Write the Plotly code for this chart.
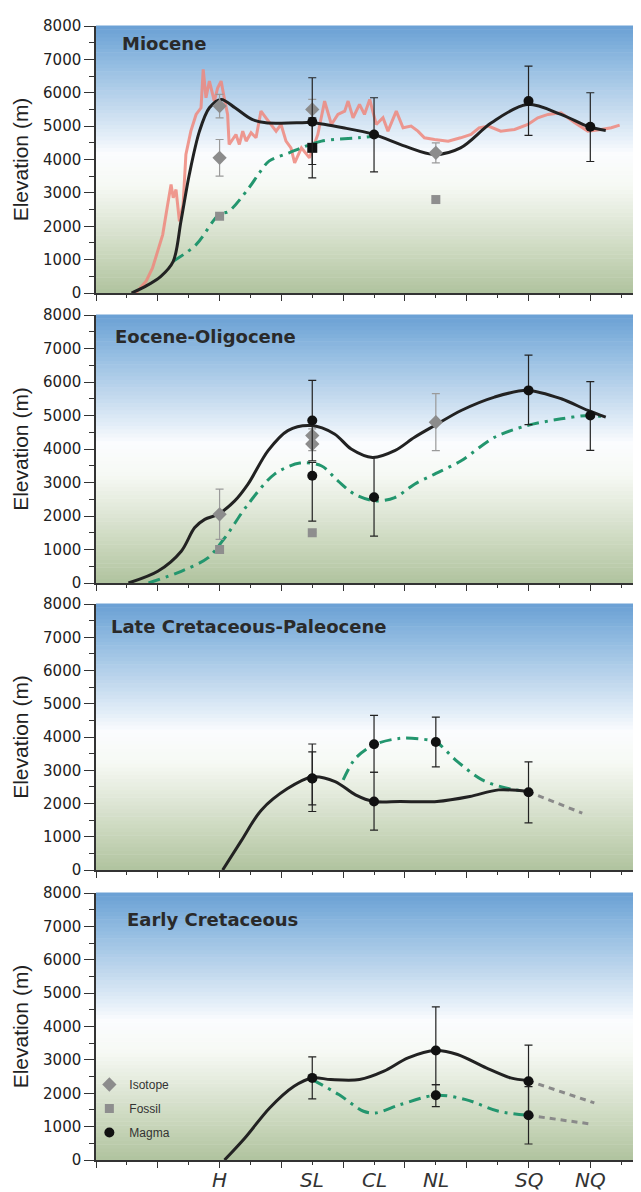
import plotly.graph_objects as go

# ---------------- data ----------------
SITES = ["H", "SL", "CL", "NL", "SQ", "NQ"]
SITE_X = [4, 7, 9, 11, 14, 16]
PANEL_TITLES = ["Miocene", "Eocene-Oligocene", "Late Cretaceous-Paleocene", "Early Cretaceous"]

# Panel 1: Miocene
mio_black_x = [1.15, 1.6, 2.1, 2.5, 2.75, 3.02, 3.35, 3.67, 4.05, 4.5, 5.05, 5.5, 6.5, 7.0, 8.0, 9.0, 10.0, 10.95, 11.8, 12.8, 13.95, 15.05, 15.95, 16.5]
mio_black_y = [0, 200, 500, 950, 2150, 3550, 4850, 5550, 5800, 5550, 5200, 5100, 5100, 5100, 4950, 4750, 4400, 4150, 4350, 5100, 5650, 5350, 4980, 4870]
mio_green_x = [2.5, 3.24, 3.98, 4.3, 4.95, 5.29, 5.6, 6.25, 7.3, 8.5, 9.0]
mio_green_y = [950, 1450, 2350, 2450, 3150, 3600, 3950, 4200, 4550, 4650, 4700]
mio_pink_x = [1.29, 1.62, 1.83, 2.0, 2.16, 2.32, 2.43, 2.5, 2.59, 2.7, 2.82, 2.91, 3.07, 3.24, 3.4, 3.47, 3.56, 3.67, 3.83, 3.94, 4.05, 4.15, 4.26, 4.31, 4.53, 4.64, 4.75, 4.86, 5.02, 5.18, 5.34, 5.5, 5.66, 5.83, 5.99, 6.15, 6.31, 6.43, 6.65, 6.91, 7.18, 7.4, 7.62, 7.83, 8.05, 8.16, 8.32, 8.53, 8.69, 8.86, 9.07, 9.29, 9.45, 9.72, 9.94, 10.2, 10.42, 10.63, 10.96, 11.4, 11.8, 12.14, 12.4, 12.7, 13.1, 13.55, 13.98, 14.3, 14.63, 15.05, 15.5, 15.92, 16.35, 16.68, 16.95]
mio_pink_y = [0, 350, 750, 1300, 1750, 2650, 3250, 2850, 3100, 2150, 2650, 4150, 4850, 5350, 5550, 6700, 5850, 6350, 5750, 6150, 6350, 5850, 5350, 4450, 4750, 4450, 4850, 4550, 4800, 4650, 5450, 5250, 5050, 4850, 5050, 4550, 4350, 3900, 4350, 4050, 4750, 5750, 5050, 5350, 5450, 5750, 5250, 5650, 5350, 5800, 5050, 5250, 4850, 5450, 4950, 5000, 4850, 4650, 4600, 4550, 4650, 4750, 4950, 5000, 4850, 4900, 5050, 5250, 5350, 5400, 5100, 4850, 4900, 4950, 5030]
mio_iso_x = [4, 4, 7, 11]
mio_iso_y = [5600, 4050, 5500, 4200]
mio_iso_err = [350, 550, 300, 300]
mio_fos_x = [4, 11]
mio_fos_y = [2300, 2800]
mio_mag_x = [7, 9, 14, 16]
mio_mag_y = [5130, 4750, 5750, 4980]
mio_mag_up = [1320, 1100, 1050, 1020]
mio_mag_dn = [1280, 1120, 1030, 1040]
mio_magsq_x = [7]
mio_magsq_y = [4350]
mio_magsq_err = [900]

# Panel 2: Eocene-Oligocene
eo_black_x = [1.05, 2.0, 2.76, 3.19, 3.52, 3.95, 4.49, 4.92, 5.57, 6.21, 6.95, 7.72, 8.26, 8.95, 9.67, 10.31, 10.96, 11.82, 12.9, 13.96, 15.06, 15.92, 16.5]
eo_black_y = [0, 350, 950, 1650, 1900, 2050, 2450, 2950, 3950, 4550, 4700, 4450, 4000, 3750, 3950, 4350, 4700, 5150, 5550, 5750, 5500, 5150, 4950]
eo_green_x = [1.7, 2.76, 3.62, 4.17, 4.92, 5.78, 6.6, 7.29, 7.83, 8.37, 9.05, 9.67, 10.31, 10.96, 11.82, 12.9, 13.96, 15.06, 15.96, 16.5]
eo_green_y = [0, 350, 750, 1350, 2350, 3250, 3580, 3500, 3050, 2650, 2450, 2550, 2950, 3250, 3650, 4350, 4700, 4900, 5000, 4950]
eo_iso_x = [4, 7, 7, 11]
eo_iso_y = [2050, 4150, 4400, 4800]
eo_iso_err = [750, 200, 200, 850]
eo_fos_x = [4, 7]
eo_fos_y = [1000, 1500]
eo_mag_x = [7, 7, 9, 14, 16]
eo_mag_y = [4850, 3200, 2560, 5750, 5000]
eo_mag_up = [1200, 400, 1190, 1050, 1010]
eo_mag_dn = [1200, 1350, 1160, 1020, 1040]

# Panel 3: Late Cretaceous-Paleocene
lk_black_x = [4.1, 4.69, 5.35, 6.2, 7.0, 7.74, 8.4, 8.99, 9.85, 11.04, 12.1, 13.03, 13.98]
lk_black_y = [0, 860, 1800, 2450, 2800, 2660, 2260, 2060, 2060, 2060, 2210, 2410, 2360]
lk_green_x = [8.0, 8.4, 8.99, 9.85, 10.78, 11.0, 11.7, 12.5, 13.3, 13.98]
lk_green_y = [2710, 3360, 3760, 3960, 3910, 3860, 3260, 2710, 2460, 2360]
lk_dot_x = [13.98, 15.74]
lk_dot_y = [2360, 1710]
lk_mag_x = [7, 7, 9, 9, 11, 14]
lk_mag_y = [2750, 2750, 3780, 2060, 3850, 2340]
lk_mag_up = [1040, 800, 870, 880, 750, 910]
lk_mag_dn = [990, 790, 840, 860, 750, 920]

# Panel 4: Early Cretaceous
ec_black_x = [4.16, 4.82, 5.62, 6.41, 7.0, 7.6, 8.53, 9.32, 10.1, 11.0, 11.7, 12.63, 13.42, 13.98]
ec_black_y = [0, 660, 1560, 2210, 2460, 2410, 2410, 2660, 3060, 3280, 3160, 2760, 2460, 2380]
ec_green_x = [7.0, 7.86, 8.66, 9.05, 9.85, 11.0, 11.97, 13.03, 13.98]
ec_green_y = [2410, 1960, 1460, 1410, 1660, 1940, 1810, 1460, 1340]
ec_dot1_x = [13.98, 16.13]
ec_dot1_y = [2380, 1710]
ec_dot2_x = [13.98, 16.0]
ec_dot2_y = [1340, 1080]
ec_mag_x = [7, 11, 11, 14, 14]
ec_mag_y = [2460, 3280, 1940, 2360, 1340]
ec_mag_up = [630, 1310, 320, 1080, 860]
ec_mag_dn = [630, 1020, 340, 1080, 860]

# ---------------- style ----------------
BLACK = "#222222"
GREEN = "#23966e"
PINK = "rgba(238,135,125,0.85)"
GREYDOT = "#8a8a8a"
ISO_C = "#8c8c8c"
FOS_C = "#8e8e8e"
DASHDOT = "12px,6px,3px,6px"

fig = go.Figure()

def ax(i):
    return ("x" if i == 1 else f"x{i}"), ("y" if i == 1 else f"y{i}")

def curve(i, xs, ys, color, width=3, dash="solid", shape="spline", smoothing=0.9):
    xa, ya = ax(i)
    fig.add_trace(go.Scatter(x=xs, y=ys, mode="lines", xaxis=xa, yaxis=ya, showlegend=False,
                             line=dict(color=color, width=width, dash=dash, shape=shape, smoothing=smoothing),
                             hoverinfo="skip"))

def points(i, xs, ys, up, dn, symbol, color, size, ecolor, name=None, legend=False):
    xa, ya = ax(i)
    fig.add_trace(go.Scatter(x=xs, y=ys, mode="markers", xaxis=xa, yaxis=ya,
                             name=name, showlegend=legend, legendgroup=name,
                             marker=dict(symbol=symbol, color=color, size=size, line=dict(width=0)),
                             error_y=dict(type="data", array=up, arrayminus=dn, color=ecolor,
                                          thickness=1.2, width=4, visible=True)))

# Panel 1
curve(1, mio_pink_x, mio_pink_y, PINK, width=3, shape="linear")
curve(1, mio_green_x, mio_green_y, GREEN, dash=DASHDOT)
curve(1, mio_black_x, mio_black_y, BLACK)
points(1, mio_iso_x, mio_iso_y, mio_iso_err, mio_iso_err, "diamond", ISO_C, 11, "#9a9a9a", "Isotope", True)
points(1, mio_fos_x, mio_fos_y, [0] * 2, [0] * 2, "square", FOS_C, 9, FOS_C, "Fossil", True)
points(1, mio_magsq_x, mio_magsq_y, mio_magsq_err, mio_magsq_err, "square", "#111111", 10, BLACK, "Magma")
points(1, mio_mag_x, mio_mag_y, mio_mag_up, mio_mag_dn, "circle", "#111111", 10, BLACK, "Magma", True)

# Panel 2
curve(2, eo_green_x, eo_green_y, GREEN, dash=DASHDOT)
curve(2, eo_black_x, eo_black_y, BLACK)
points(2, eo_iso_x, eo_iso_y, eo_iso_err, eo_iso_err, "diamond", ISO_C, 11, "#9a9a9a", "Isotope")
points(2, eo_fos_x, eo_fos_y, [0] * 2, [0] * 2, "square", FOS_C, 9, FOS_C, "Fossil")
points(2, eo_mag_x, eo_mag_y, eo_mag_up, eo_mag_dn, "circle", "#111111", 10, BLACK, "Magma")

# Panel 3
curve(3, lk_green_x, lk_green_y, GREEN, dash=DASHDOT)
curve(3, lk_dot_x, lk_dot_y, GREYDOT, dash="6px,5px", shape="linear")
curve(3, lk_black_x, lk_black_y, BLACK)
points(3, lk_mag_x, lk_mag_y, lk_mag_up, lk_mag_dn, "circle", "#111111", 10, BLACK, "Magma")

# Panel 4
curve(4, ec_green_x, ec_green_y, GREEN, dash=DASHDOT)
curve(4, ec_dot1_x, ec_dot1_y, GREYDOT, dash="6px,5px", shape="linear")
curve(4, ec_dot2_x, ec_dot2_y, GREYDOT, dash="6px,5px", shape="linear")
curve(4, ec_black_x, ec_black_y, BLACK)
points(4, ec_mag_x, ec_mag_y, ec_mag_up, ec_mag_dn, "circle", "#111111", 10, BLACK, "Magma")

# ---------------- layout ----------------
H = 1192
TOP_PX = [18, 307, 596, 885]
BOT_PX = [285, 575, 862, 1152]
PLOT_TOP, PLOT_BOT = 18, 1152
span = PLOT_BOT - PLOT_TOP

def pp(py):
    return (PLOT_BOT - py) / span

layout = dict(
    width=641, height=H,
    margin=dict(l=88, r=0, t=PLOT_TOP, b=H - PLOT_BOT),
    paper_bgcolor="white", plot_bgcolor="white",
    font=dict(family="DejaVu Sans", color="#222222"),
    legend=dict(x=-0.012, y=pp(1062), xanchor="left", yanchor="top", bgcolor="rgba(0,0,0,0)",
                font=dict(family="Liberation Sans", size=12, color="#333333"),
                tracegroupgap=5, itemwidth=30),
)

XR = [0, 17.9]
for i in range(4):
    n = i + 1
    xk = "xaxis" if n == 1 else f"xaxis{n}"
    yk = "yaxis" if n == 1 else f"yaxis{n}"
    ya = "y" if n == 1 else f"y{n}"
    xa = "x" if n == 1 else f"x{n}"
    layout[xk] = dict(domain=[0, 1], anchor=ya, range=XR, showgrid=False, zeroline=False,
                      showline=True, linecolor="#333333", linewidth=1.5,
                      ticks="outside", tick0=0, dtick=2, ticklen=6, tickwidth=1.2, tickcolor="#333333",
                      minor=dict(ticks="outside", dtick=1, ticklen=3, tickwidth=1, tickcolor="#333333"),
                      showticklabels=False, fixedrange=True)
    layout[yk] = dict(domain=[pp(BOT_PX[i]), pp(TOP_PX[i])], anchor=xa, range=[0, 8000],
                      showgrid=False, zeroline=False, showline=True, linecolor="#333333", linewidth=1.5,
                      ticks="outside", tickvals=list(range(0, 8001, 1000)), ticklen=10, tickwidth=1.2,
                      tickcolor="#333333",
                      minor=dict(ticks="outside", tickvals=list(range(500, 8000, 1000)), ticklen=5,
                                 tickwidth=1, tickcolor="#333333"),
                      tickfont=dict(family="DejaVu Sans", size=15, color="#222222"),
                      title=dict(text="Elevation (m)", standoff=9,
                                 font=dict(family="Liberation Sans", size=21, color="#222222")),
                      fixedrange=True)

fig.update_layout(**layout)

# Background gradient (sky blue -> white -> pale green)
stops = [
    (0.00, (176, 195, 158)),
    (0.12, (198, 212, 184)),
    (0.28, (226, 233, 218)),
    (0.40, (246, 249, 244)),
    (0.52, (251, 252, 254)),
    (0.60, (224, 236, 247)),
    (0.72, (188, 213, 236)),
    (0.86, (146, 188, 225)),
    (1.00, (106, 160, 212)),
]

def color_at(f):
    for (a, ca), (b, cb) in zip(stops[:-1], stops[1:]):
        if a <= f <= b:
            t = (f - a) / (b - a)
            return "rgb(%d,%d,%d)" % tuple(round(ca[k] + (cb[k] - ca[k]) * t) for k in range(3))
    return "rgb(%d,%d,%d)" % stops[-1][1]

NSTRIP = 70
shapes = []
for i in range(4):
    n = i + 1
    xd = "x domain" if n == 1 else f"x{n} domain"
    yd = "y domain" if n == 1 else f"y{n} domain"
    for s in range(NSTRIP):
        f0, f1 = s / NSTRIP, (s + 1) / NSTRIP
        shapes.append(dict(type="rect", xref=xd, yref=yd, x0=0, x1=1, y0=f0, y1=f1 + 0.002,
                           fillcolor=color_at((f0 + f1) / 2), line=dict(width=0), layer="below"))
fig.update_layout(shapes=shapes)

# Panel titles
title_pos = [(0.043, 0.936), (0.031, 0.921), (0.0235, 0.914), (0.052, 0.899)]
for i, (t, (tx, ty)) in enumerate(zip(PANEL_TITLES, title_pos)):
    n = i + 1
    xd = "x domain" if n == 1 else f"x{n} domain"
    yd = "y domain" if n == 1 else f"y{n} domain"
    fig.add_annotation(text=f"<b>{t}</b>", xref=xd, yref=yd, x=tx, y=ty, xanchor="left", yanchor="middle",
                       showarrow=False, font=dict(family="DejaVu Sans", size=18, color="#2a2a2a"))

# Site labels under bottom panel
for s, sx in zip(SITES, SITE_X):
    fig.add_annotation(text=f"<i>{s}</i>", xref="x4", yref="paper", x=sx, y=pp(1158), xanchor="center",
                       yanchor="top", showarrow=False,
                       font=dict(family="DejaVu Sans", size=20, color="#333333"))

fig.write_html("out.html")
